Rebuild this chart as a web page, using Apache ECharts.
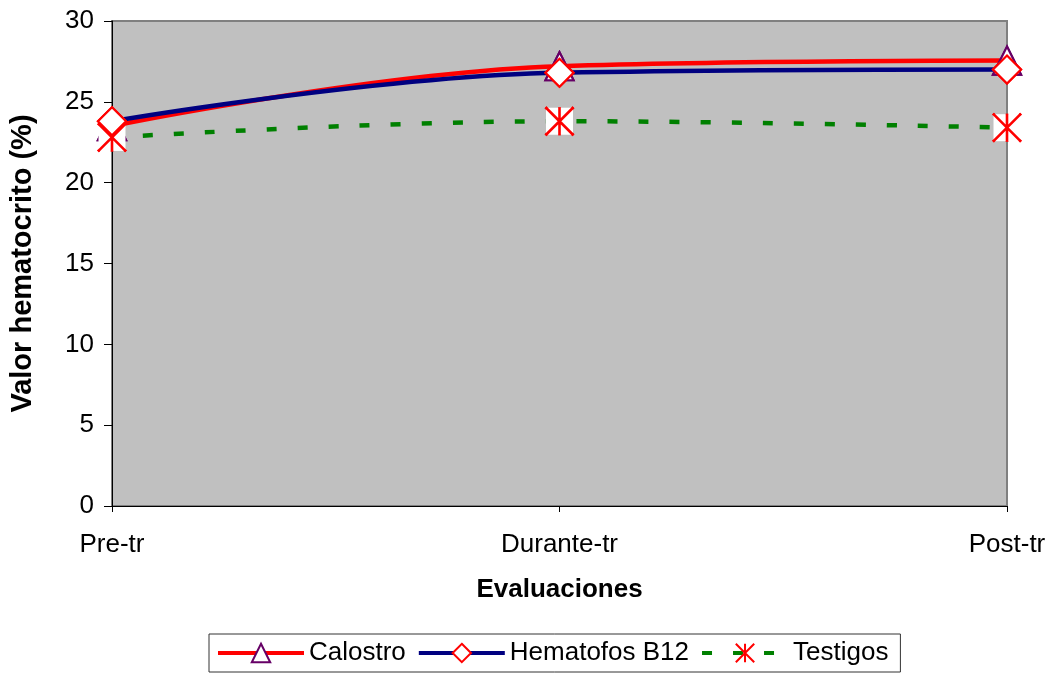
<!DOCTYPE html>
<html>
<head>
<meta charset="utf-8">
<script src="https://cdn.jsdelivr.net/npm/echarts@6/dist/echarts.min.js"></script>
<style>
  html, body { margin: 0; padding: 0; background: #fff; }
  #chart { width: 1052px; height: 675px; }
</style>
</head>
<body>
<div id="chart"></div>
<script>
// Hematocrit values (%) per evaluation stage
const categories = ['Pre-tr', 'Durante-tr', 'Post-tr'];
const calostro = [23.5, 27.2, 27.55];
const hematofos = [23.8, 26.8, 27.0];
const testigos = [22.8, 23.8, 23.4];
const yTicks = [0, 5, 10, 15, 20, 25, 30];

const font = 'Liberation Sans, Arial, sans-serif';
const starPath = 'path://M0 0 L28 28 M28 0 L0 28 M14 0 L14 28';

const triStyle = { color: '#ffffff', borderColor: '#660066', borderWidth: 2.2, opacity: 1 };
const diaStyle = { color: '#ffffff', borderColor: '#ff0000', borderWidth: 2.2, opacity: 1 };
const starStyle = { color: 'rgba(0,0,0,0)', borderColor: '#ff0000', borderWidth: 2.6, opacity: 1 };
const boxStyle = { color: '#ffffff', opacity: 1 };

// overlay of markers so all markers sit above every line
function markerLayer(data, symbol, size, style, z) {
  return {
    type: 'scatter', data: data, symbol: symbol, symbolSize: size,
    itemStyle: style, z: z, silent: true
  };
}

const chart = echarts.init(document.getElementById('chart'), null, { renderer: 'canvas' });

chart.setOption({
  animation: false,
  backgroundColor: '#ffffff',
  grid: {
    left: 111, right: 45, top: 21, bottom: 169,
    show: true, backgroundColor: '#c0c0c0', borderColor: '#808080', borderWidth: 2
  },
  legend: {
    left: 209, top: 634,
    padding: [6, 12, 6, 7],
    itemGap: 11,
    itemWidth: 86, itemHeight: 23,
    backgroundColor: '#ffffff', borderColor: '#333333', borderWidth: 1,
    lineStyle: { width: 4 },
    itemStyle: { borderWidth: 2 },
    textStyle: { fontFamily: font, fontSize: 26, color: '#000' },
    data: ['Calostro', 'Hematofos B12', 'Testigos']
  },
  xAxis: {
    type: 'category',
    data: categories,
    boundaryGap: false,
    name: 'Evaluaciones',
    nameLocation: 'middle',
    nameGap: 71,
    nameTextStyle: { fontFamily: font, fontSize: 26, fontWeight: 'bold', color: '#000' },
    axisLine: { lineStyle: { color: '#000', width: 1 } },
    axisTick: { show: true, length: 6, alignWithLabel: true, lineStyle: { color: '#000' } },
    axisLabel: { fontFamily: font, fontSize: 26, color: '#000', margin: 26 },
    splitLine: { show: false }
  },
  yAxis: {
    type: 'value',
    min: yTicks[0], max: yTicks[yTicks.length - 1], interval: 5,
    name: 'Valor hematocrito (%)',
    nameLocation: 'middle',
    nameGap: 75,
    nameTextStyle: { fontFamily: font, fontSize: 29, fontWeight: 'bold', color: '#000' },
    axisLine: { show: true, lineStyle: { color: '#000', width: 1 } },
    axisTick: { show: true, length: 8, lineStyle: { color: '#000' } },
    axisLabel: { fontFamily: font, fontSize: 26, color: '#000', margin: 18 },
    splitLine: { show: false }
  },
  series: [
    {
      name: 'Calostro', type: 'line', data: calostro, smooth: 0.4, z: 2,
      lineStyle: { color: '#ff0000', width: 4.5 },
      symbol: 'triangle', symbolSize: 28, itemStyle: triStyle
    },
    {
      name: 'Hematofos B12', type: 'line', data: hematofos, smooth: 0.4, z: 2,
      lineStyle: { color: '#000080', width: 4.5 },
      symbol: 'diamond', symbolSize: 28, itemStyle: diaStyle
    },
    {
      name: 'Testigos', type: 'line', data: testigos, smooth: 0.4, z: 2,
      lineStyle: { color: '#008000', width: 4.5, type: [10, 21] },
      symbol: starPath, symbolSize: 28, itemStyle: starStyle
    },
    markerLayer(calostro, 'triangle', 28, triStyle, 3),
    markerLayer(testigos, 'rect', 27, boxStyle, 4),
    markerLayer(testigos, starPath, 28, starStyle, 4),
    markerLayer(hematofos, 'diamond', 28, diaStyle, 5)
  ]
});
</script>
</body>
</html>
